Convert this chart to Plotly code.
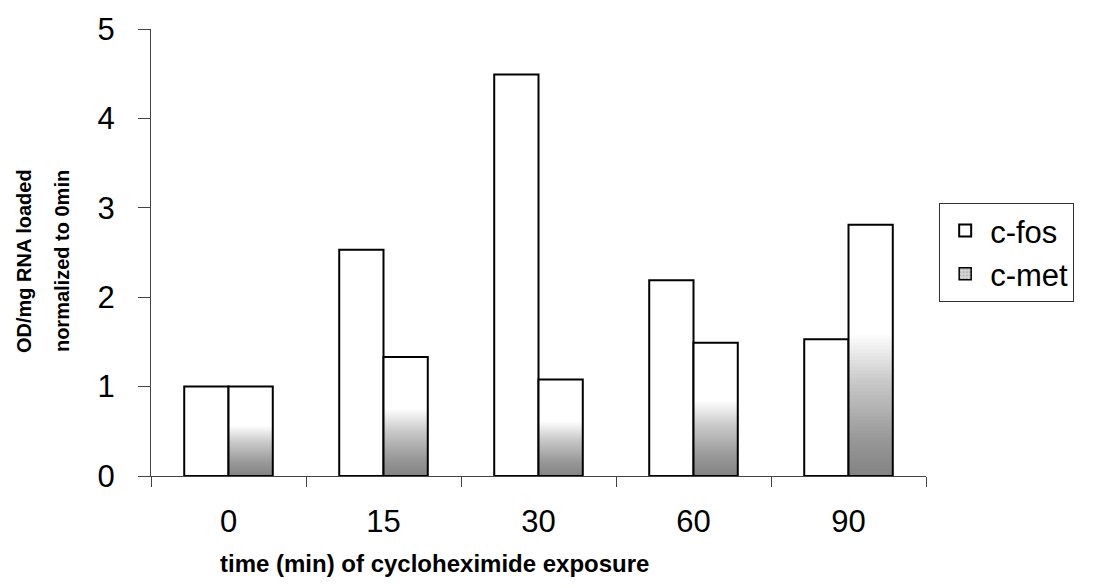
import plotly.graph_objects as go

# Exposure times (min) and normalized signal per transcript
time_labels = ["0", "15", "30", "60", "90"]
cfos = [1.00, 2.53, 4.49, 2.19, 1.53]
cmet = [1.00, 1.33, 1.08, 1.49, 2.81]

y_ticks = [0, 1, 2, 3, 4, 5]

# c-met bars get a grey wash over their lower part
SHADE_TOP = 0.56
SHADE_STEPS = 40

BASE_FONT = "Liberation Sans, Arial, sans-serif"
NARROW_FONT = "Liberation Sans Narrow, Arial Narrow, Liberation Sans, Arial, sans-serif"

fig = go.Figure()

fig.add_bar(
    x=time_labels, y=cfos, name="c-fos", offsetgroup="fos",
    marker=dict(color="white", line=dict(color="black", width=2)),
)

# white body of the c-met bars
fig.add_bar(
    x=time_labels, y=cmet, offsetgroup="met", showlegend=False, hoverinfo="skip",
    marker=dict(color="white", line=dict(width=0)),
)

# stacked translucent layers build the grey gradient from the bottom up
for i in range(SHADE_STEPS):
    frac = SHADE_TOP * (i + 1) / SHADE_STEPS
    fig.add_bar(
        x=time_labels, y=[v * frac for v in cmet], offsetgroup="met",
        showlegend=False, hoverinfo="skip",
        marker=dict(color="rgba(30,30,30,0.021)", line=dict(width=0)),
    )

# outline of the c-met bars
fig.add_bar(
    x=time_labels, y=cmet, offsetgroup="met", showlegend=False,
    marker=dict(color="rgba(0,0,0,0)", line=dict(color="black", width=2)),
)

# legend entry for c-met with a grey swatch
fig.add_bar(
    x=time_labels, y=[None] * len(time_labels), name="c-met", offsetgroup="met",
    marker=dict(color="#d4d4d4", line=dict(color="black", width=1.5),
                pattern=dict(shape=".", fgcolor="#888888", size=4, solidity=0.3)),
)

fig.update_layout(
    width=1105, height=588,
    margin=dict(l=151, r=179, t=22, b=112),
    paper_bgcolor="white", plot_bgcolor="white",
    barmode="group", bargap=0.4286, bargroupgap=0,
    font=dict(family=BASE_FONT, color="black"),
    showlegend=True,
    legend=dict(
        x=1.017, y=0.611, xanchor="left", yanchor="top",
        bordercolor="#333333", borderwidth=1,
        font=dict(size=31, family=BASE_FONT),
        itemwidth=40, tracegroupgap=0,
        traceorder="normal",
    ),
)

fig.update_xaxes(
    type="category", tickson="boundaries",
    ticks="outside", ticklen=10, tickcolor="#444444",
    showline=True, linecolor="#444444", linewidth=1,
    showgrid=False, zeroline=False,
    tickfont=dict(size=31, family=BASE_FONT),
    ticklabelstandoff=18,
)

fig.update_yaxes(
    range=[0, 5], tickvals=y_ticks,
    ticks="outside", ticklen=12, tickcolor="#444444",
    showline=True, linecolor="#444444", linewidth=1,
    showgrid=False, zeroline=False,
    tickfont=dict(size=31, family=BASE_FONT),
    ticklabelstandoff=17,
)

fig.add_annotation(
    text="time (min) of cycloheximide exposure",
    xref="paper", yref="paper", x=0.366, y=-0.196,
    xanchor="center", yanchor="middle", showarrow=False,
    font=dict(size=24, family=BASE_FONT, weight="bold"),
)

fig.add_annotation(
    text="OD/mg RNA loaded",
    xref="paper", yref="paper", x=-0.163, y=0.48,
    xanchor="center", yanchor="middle", showarrow=False, textangle=-90,
    font=dict(size=20, family=NARROW_FONT, weight="bold"),
)
fig.add_annotation(
    text="normalized to 0min",
    xref="paper", yref="paper", x=-0.114, y=0.48,
    xanchor="center", yanchor="middle", showarrow=False, textangle=-90,
    font=dict(size=20, family=NARROW_FONT, weight="bold"),
)

fig.write_html("out.html")
